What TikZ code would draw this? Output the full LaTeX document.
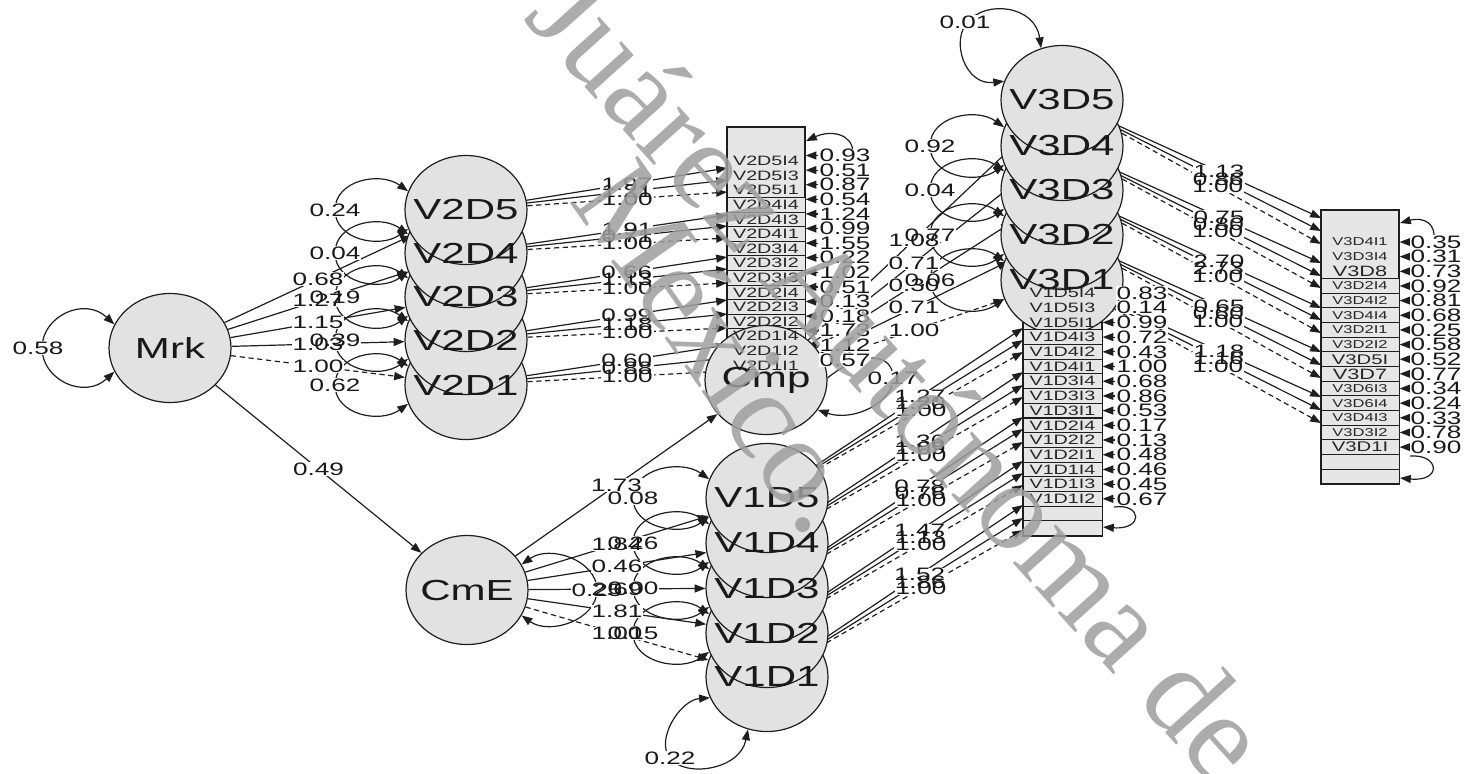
\documentclass[tikz,border=0pt]{standalone}
\usepackage{fontspec}
\usetikzlibrary{shapes.geometric,arrows.meta}
\newfontfamily\ffw[FakeStretch=1.45]{Liberation Sans}
\newfontfamily\wmfont{Liberation Serif}
\definecolor{lc}{HTML}{1E1E1E}
\definecolor{latf}{HTML}{E2E2E2}
\definecolor{boxf}{HTML}{E6E6E6}
\definecolor{wmc}{HTML}{9E9E9E}
\newcommand\fl{\ffw\fontsize{9}{9}\selectfont}
\newcommand\fbig{\ffw\fontsize{14.5}{14.5}\selectfont}
\newcommand\frow{\ffw\fontsize{6.8}{6.8}\selectfont}
\newcommand\frs{\ffw\fontsize{5.7}{5.7}\selectfont}
\newcommand\frm{\ffw\fontsize{7.5}{7.5}\selectfont}
\newcommand\frn{\ffw\fontsize{7}{7}\selectfont}
\pgfdeclarelayer{bg}\pgfdeclarelayer{lbg}\pgfdeclarelayer{ltx}\pgfdeclarelayer{wm}
\pgfsetlayers{bg,main,lbg,ltx,wm}
\tikzset{
 >={Triangle[length=5.4pt,width=4pt]},
 lat/.style={ellipse,draw=lc,fill=latf,line width=0.6pt,minimum width=61pt,minimum height=54.5pt,inner sep=0pt},
 lattext/.style={font=\fbig,inner sep=0pt,text=black!90},
 conn/.style={draw=lc,line width=0.6pt,->},
 fixd/.style={dash pattern=on 2.6pt off 1.8pt},
 vloop/.style={draw=lc,line width=0.6pt,<->},
 lblbox/.style={fill=white,text=white,inner xsep=0.5pt,inner ysep=0.2pt,font=\fl},
 lbltxt/.style={text=black!90,inner xsep=0.5pt,inner ysep=0.2pt,font=\fl},
 outerbox/.style={draw=lc,fill=boxf,line width=0.6pt,inner sep=0pt},
 rowbox/.style={draw=lc,fill=boxf,line width=0.5pt,minimum width=39pt,minimum height=7.3pt,inner sep=0pt},
 rowtxt/.style={inner sep=0pt,text=black!85},
 wmark/.style={font=\wmfont\fontsize{63}{63}\selectfont,text=wmc,text opacity=0.85,inner sep=0pt}
}
\newcommand\lab[3]{%
 \begin{pgfonlayer}{lbg}\node[lblbox] (#3b) at (#1) {#2};\end{pgfonlayer}%
 \begin{pgfonlayer}{ltx}\node[lbltxt] (#3) at (#1) {#2};\end{pgfonlayer}}
\newcommand\lpath[5][]{%
 \begin{pgfonlayer}{bg}\draw[conn,#1] (#2) -- (#3);\end{pgfonlayer}%
 \begin{pgfonlayer}{lbg}\path (#2) -- (#3) node[lblbox,pos=.5] (#5b) {#4};\end{pgfonlayer}%
 \begin{pgfonlayer}{ltx}\path (#2) -- (#3) node[lbltxt,pos=.5] (#5) {#4};\end{pgfonlayer}}
\newcommand\grp[9]{%
 \coordinate (#9a) at (#2,#3);\coordinate (#9b) at (#2,#4);\coordinate (#9c) at (#2,#5);%
 \lpath{#1}{#9a}{#6}{#9la}\lpath{#1}{#9b}{#7}{#9lb}\lpath[fixd]{#1}{#9c}{#8}{#9lc}}
\newcommand\leftloop[5]{%
 \begin{pgfonlayer}{bg}\draw[vloop] (#1.162) .. controls +(-28,-20) and +(0,-30) .. (#2,#3) .. controls +(0,30) and +(-28,20) .. (#1.198);\end{pgfonlayer}%
 \lab{#2,#3}{#4}{#5}}
\newcommand\res[5]{%
 \lab{#2,#3}{#4}{#1}%
 \begin{pgfonlayer}{bg}\draw[conn] (#1.west) -- (#1.west -| #5.east);\end{pgfonlayer}}
\begin{document}
\begin{tikzpicture}[x=0.5pt,y=-0.5pt]
\useasboundingbox (0,0) rectangle (1465,773);
% ---------- boxes of observed variables
\node[outerbox,minimum width=39pt,minimum height=123pt] (B2) at (766,250) {};
\foreach \i in {4,...,15}{\pgfmathsetmacro\yy{161+14.6*(\i-1)}\node[rowbox] (rtw\i) at (766,\yy) {};}
\node[outerbox,minimum width=39pt,minimum height=137pt] (B3) at (1360,347) {};
\foreach \i in {4,...,17}{\pgfmathsetmacro\yy{242+14.65*(\i-1)}\node[rowbox] (rth\i) at (1360,\yy) {};}
\node[outerbox,minimum width=39.5pt,minimum height=138.5pt] (B1) at (1062.5,397.5) {};
% ---------- latent variables
\node[lat] (Mrk) at (170,348) {};
\foreach \n/\y in {1/385,2/340,3/297,4/253,5/210}{\node[lat] (V2D\n) at (466,\y) {};}
\node[lat] (CmE) at (467,590) {};
\foreach \n/\y in {1/677,2/633,3/588,4/543,5/498}{\node[lat] (V1D\n) at (767,\y) {};}
\node[lat] (Cmp) at (766,380) {};
\foreach \n/\y in {1/280,2/235,3/190,4/146,5/100}{\node[lat] (V3D\n) at (1062,\y) {};}
\foreach \i in {4,...,17}{\pgfmathsetmacro\yy{293+14.7*(\i-1)}\node[rowbox,minimum width=39.5pt] (ron\i) at (1062.5,\yy) {};}
% ---------- row texts
\foreach \t [count=\i] in {V2D5I4,V2D5I3,V2D5I1,V2D4I4,V2D4I3,V2D4I1,V2D3I4,V2D3I2,V2D3I3,V2D2I4,V2D2I3,V2D2I2,V2D1I4,V2D1I2,V2D1I1}{\pgfmathsetmacro\yy{161+14.6*(\i-1)}\node[rowtxt,font=\frow] (ntw\i) at (766,\yy) {\t};}
\foreach \t [count=\i] in {V1D5I4,V1D5I3,V1D5I1,V1D4I3,V1D4I2,V1D4I1,V1D3I4,V1D3I3,V1D3I1,V1D2I4,V1D2I2,V1D2I1,V1D1I4,V1D1I3,V1D1I2}{\pgfmathsetmacro\yy{293+14.7*(\i-1)}\node[rowtxt,font=\frow] (non\i) at (1062.5,\yy) {\t};}
\foreach \t/\f [count=\i] in {V3D4I1/\frs,V3D3I4/\frs,V3D8/\frm,V3D2I4/\frs,V3D4I2/\frs,V3D4I4/\frs,V3D2I1/\frs,V3D2I2/\frs,V3D5I/\frn,V3D7/\frm,V3D6I3/\frs,V3D6I4/\frs,V3D4I3/\frs,V3D3I2/\frs,V3D1I/\frn}{\pgfmathsetmacro\yy{242+14.65*(\i-1)}\node[rowtxt] (nth\i) at (1360,\yy) {\f\t};}
% ---------- latent names
\foreach \n in {Mrk,V2D1,V2D2,V2D3,V2D4,V2D5,CmE,V1D1,V1D2,V1D3,V1D4,V1D5,Cmp,V3D1,V3D2,V3D3,V3D4,V3D5}{\node[lattext] (t\n) at (\n) {\n};}
% ---------- structural paths
\lpath{Mrk}{V2D5}{0.68}{pm5}
\lpath{Mrk}{V2D4}{1.27}{pm4}
\lpath{Mrk}{V2D3}{1.15}{pm3}
\lpath{Mrk}{V2D2}{1.03}{pm2}
\lpath[fixd]{Mrk}{V2D1}{1.00}{pm1}
\lpath{Mrk}{CmE}{0.49}{pmc}
\lpath{CmE}{Cmp}{1.73}{pcc}
\lpath{CmE}{V1D5}{1.84}{pe5}
\lpath{CmE}{V1D4}{0.46}{pe4}
\lpath{CmE}{V1D3}{2.69}{pe3}
\lpath{CmE}{V1D2}{1.81}{pe2}
\lpath[fixd]{CmE}{V1D1}{1.00}{pe1}
\lpath{Cmp}{V3D5}{1.08}{pc5}
\lpath{Cmp}{V3D4}{0.71}{pc4}
\lpath{Cmp}{V3D3}{0.30}{pc3}
\lpath{Cmp}{V3D2}{0.71}{pc2}
\lpath[fixd]{Cmp}{V3D1}{1.00}{pc1}
% ---------- measurement paths
\grp{V2D5}{727}{168}{180}{192}{1.97}{1.21}{1.00}{g25}
\grp{V2D4}{727}{215}{226}{238}{1.91}{0.71}{1.00}{g24}
\grp{V2D3}{727}{257}{269}{283}{0.66}{1.13}{1.00}{g23}
\grp{V2D2}{727}{300}{314}{328}{0.99}{1.18}{1.00}{g22}
\grp{V2D1}{727}{345}{358}{371}{0.60}{0.88}{1.00}{g21}
\grp{V1D5}{1023}{328}{340}{352}{1.27}{1.20}{1.00}{g15}
\grp{V1D4}{1023}{372}{385}{397}{1.36}{1.09}{1.00}{g14}
\grp{V1D3}{1023}{417}{429}{442}{0.78}{0.76}{1.00}{g13}
\grp{V1D2}{1023}{461}{473}{485}{1.47}{1.13}{1.00}{g12}
\grp{V1D1}{1023}{505}{518}{530}{1.52}{1.86}{1.00}{g11}
\grp{V3D5}{1321}{218}{231}{244}{1.13}{0.86}{1.00}{g35}
\grp{V3D4}{1321}{263}{276}{288}{0.75}{0.80}{1.00}{g34}
\grp{V3D3}{1321}{308}{320}{333}{2.70}{2.73}{1.00}{g33}
\grp{V3D2}{1321}{352}{365}{378}{0.65}{0.60}{1.00}{g32}
\grp{V3D1}{1321}{397}{410}{423}{1.18}{1.16}{1.00}{g31}
% ---------- variance loops
\begin{pgfonlayer}{bg}\draw[vloop] (Mrk.157) .. controls +(-30,-28) and +(0,-32) .. (42,348) .. controls +(0,32) and +(-30,28) .. (Mrk.203);\end{pgfonlayer}
\lab{38,348}{0.58}{lmrk}
\leftloop{V2D5}{335}{210}{0.24}{lq25}
\leftloop{V2D4}{335}{253}{0.04}{lq24}
\leftloop{V2D3}{335}{297}{0.19}{lq23}
\leftloop{V2D2}{335}{340}{0.39}{lq22}
\leftloop{V2D1}{335}{385}{0.62}{lq21}
\leftloop{V1D5}{633}{498}{0.08}{lq15}
\leftloop{V1D4}{633}{543}{0.26}{lq14}
\leftloop{V1D3}{633}{588}{0.00}{lq13}
\leftloop{V1D2}{633}{633}{0.15}{lq12}
\leftloop{V3D4}{930}{146}{0.92}{lq34}
\leftloop{V3D3}{930}{190}{0.04}{lq33}
\leftloop{V3D2}{930}{235}{0.77}{lq32}
\leftloop{V3D1}{930}{280}{0.06}{lq31}
\begin{pgfonlayer}{bg}
\draw[vloop] (V3D5.162) .. controls (965,86) and (950,40) .. (968,22) .. controls (985,0) and (1035,5) .. (V3D5.112);
\draw[vloop] (V1D1.200) .. controls (680,700) and (655,740) .. (670,758) .. controls (685,778) and (740,770) .. (V1D1.250);
\draw[vloop] (CmE.25) .. controls +(28,-20) and +(0,-30) .. (597,590) .. controls +(0,30) and +(28,20) .. (CmE.-25);
\draw[conn] (Cmp.2) .. controls +(35,-28) and +(0,-25) .. (893,378) .. controls +(0,25) and +(35,12) .. (Cmp.-30);
\end{pgfonlayer}
\lab{965,22}{0.01}{lq35}
\lab{670,758}{0.22}{lq11}
\lab{597,590}{0.25}{lqce}
\lab{893,378}{0.17}{lqcp}
% ---------- residual variances of observed variables
\foreach \v [count=\i] in {0.93,0.51,0.87,0.54,1.24,0.99,1.55,0.22,1.02,0.51,0.13,0.18,1.73,1.12,0.57}{\pgfmathsetmacro\yy{161+14.6*(\i-1)-5.5}\res{ea\i}{845}{\yy}{\v}{B2}}
\foreach \v [count=\i] in {0.83,0.14,0.99,0.72,0.43,1.00,0.68,0.86,0.53,0.17,0.13,0.48,0.46,0.45,0.67}{\pgfmathsetmacro\yy{293+14.7*(\i-1)}\res{eb\i}{1142}{\yy}{\v}{B1}}
\foreach \v [count=\i] in {0.35,0.31,0.73,0.92,0.81,0.68,0.25,0.58,0.52,0.77,0.34,0.24,0.33,0.78,0.90}{\pgfmathsetmacro\yy{242+14.65*(\i-1)}\res{ec\i}{1436}{\yy}{\v}{B3}}
% ---------- corner loops of the boxes
\coordinate (k2a) at (853,152); \coordinate (k2b) at (806,141);
\coordinate (k1a) at (1114,507); \coordinate (k1b) at (1103,527);
\coordinate (k3a) at (1434,236); \coordinate (k3b) at (1400,223);
\coordinate (k3c) at (1410,456); \coordinate (k3d) at (1400,478);
\begin{pgfonlayer}{bg}
\draw[conn] (k2a) .. controls (852,133) and (830,130) .. (k2b);
\draw[conn] (k1a) .. controls (1142,503) and (1144,530) .. (k1b);
\draw[conn] (k3a) .. controls (1434,219) and (1418,218) .. (k3b);
\draw[conn] (k3c) .. controls (1440,454) and (1442,482) .. (k3d);
\end{pgfonlayer}
% ---------- watermark
\begin{pgfonlayer}{wm}
\node[wmark,rotate=-48,anchor=base west] (wmA) at (522,18) {Juárez Autónoma de};
\node[wmark,rotate=-55,anchor=base west] (wmB) at (568,200) {México.};
\end{pgfonlayer}
\end{tikzpicture}
\end{document}
